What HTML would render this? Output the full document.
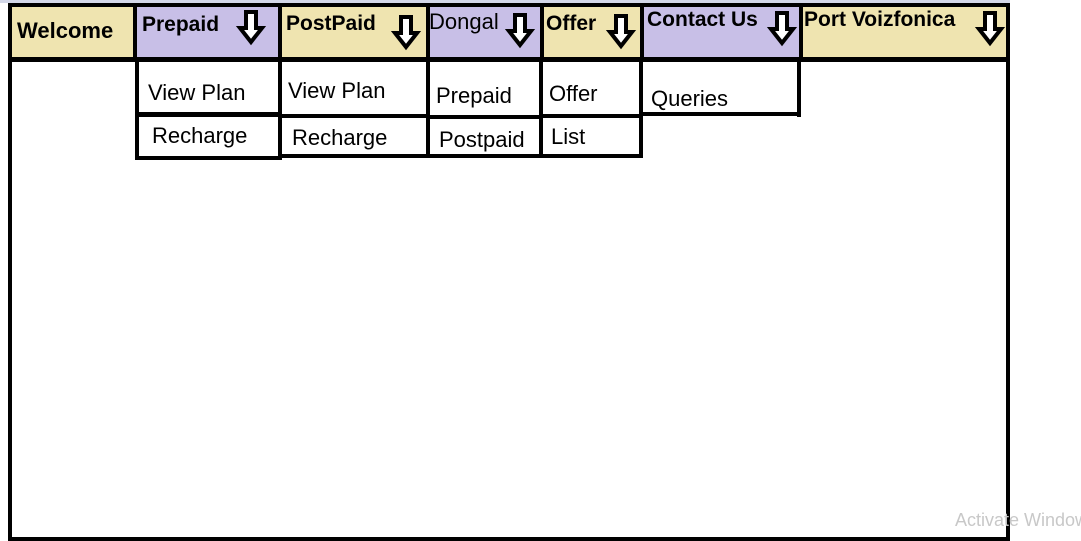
<!DOCTYPE html>
<html><head><style>
body{margin:0;width:1081px;height:541px;background:#fff;position:relative;overflow:hidden;font-family:"Liberation Sans",sans-serif}
.a{position:absolute;white-space:nowrap}
.b{position:absolute;background:#000}
.h{position:absolute;font-weight:bold;font-size:21px;color:#000;white-space:nowrap}
.s{position:absolute;font-size:22px;color:#000;white-space:nowrap}
.bei{background:#efe4b0}.pur{background:#c8bfe7}
</style></head><body>
<div class="a" style="left:0;top:0;width:1010px;height:3px;background:#d3d7e8"></div>
<div class="a bei" style="left:12px;top:7px;width:122px;height:50px"></div>
<div class="a pur" style="left:137px;top:7px;width:141px;height:50px"></div>
<div class="a bei" style="left:282px;top:7px;width:145px;height:50px"></div>
<div class="a pur" style="left:430px;top:7px;width:110px;height:50px"></div>
<div class="a bei" style="left:544px;top:7px;width:97px;height:50px"></div>
<div class="a pur" style="left:644px;top:7px;width:155px;height:50px"></div>
<div class="a bei" style="left:803px;top:7px;width:203px;height:50px"></div>
<div class="b" style="left:8px;top:3px;width:1002px;height:4px"></div>
<div class="b" style="left:8px;top:3px;width:4px;height:538px"></div>
<div class="b" style="left:1006px;top:3px;width:4px;height:538px"></div>
<div class="b" style="left:8px;top:537px;width:1000px;height:4px"></div>
<div class="b" style="left:8px;top:57px;width:1002px;height:5px"></div>
<div class="b" style="left:133px;top:3px;width:4px;height:58px"></div>
<div class="b" style="left:278px;top:3px;width:4px;height:58px"></div>
<div class="b" style="left:426px;top:3px;width:4px;height:58px"></div>
<div class="b" style="left:540px;top:3px;width:4px;height:58px"></div>
<div class="b" style="left:640px;top:3px;width:4px;height:58px"></div>
<div class="b" style="left:799px;top:3px;width:4px;height:58px"></div>
<div class="b" style="left:135px;top:57px;width:4px;height:103px"></div>
<div class="b" style="left:278px;top:57px;width:4px;height:103px"></div>
<div class="b" style="left:135px;top:112px;width:147px;height:5px"></div>
<div class="b" style="left:135px;top:156px;width:147px;height:4px"></div>
<div class="b" style="left:426px;top:57px;width:4px;height:101px"></div>
<div class="b" style="left:280px;top:114px;width:148px;height:4px"></div>
<div class="b" style="left:280px;top:154px;width:148px;height:4px"></div>
<div class="b" style="left:539px;top:57px;width:4px;height:101px"></div>
<div class="b" style="left:428px;top:115px;width:114px;height:4px"></div>
<div class="b" style="left:428px;top:154px;width:114px;height:4px"></div>
<div class="b" style="left:639px;top:57px;width:4px;height:101px"></div>
<div class="b" style="left:541px;top:114px;width:101px;height:4px"></div>
<div class="b" style="left:541px;top:154px;width:101px;height:4px"></div>
<div class="b" style="left:797px;top:57px;width:4px;height:60px"></div>
<div class="b" style="left:641px;top:112px;width:160px;height:4px"></div>
<div class="h" style="left:17px;top:18px;font-size:22px">Welcome</div>
<div class="h" style="left:142px;top:13px">Prepaid</div>
<div class="h" style="left:286px;top:12px">PostPaid</div>
<div class="a" style="left:429px;top:9px;font-size:22px">Dongal</div>
<div class="h" style="left:546px;top:12px">Offer</div>
<div class="h" style="left:647px;top:8px">Contact Us</div>
<div class="h" style="left:804px;top:8px">Port Voizfonica</div>
<svg class="a" style="left:0;top:0" width="1081" height="80">
<defs><path id="ar" d="M-5,0 H5 V16 H11 L0,30 L-11,16 H-5 Z" fill="#fff" stroke="#000" stroke-width="4" stroke-linejoin="miter"/></defs>
<use href="#ar" x="251" y="12"/>
<use href="#ar" x="406" y="17"/>
<use href="#ar" x="520" y="15"/>
<use href="#ar" x="621" y="16"/>
<use href="#ar" x="782" y="13"/>
<use href="#ar" x="990" y="13"/>
</svg>
<div class="s" style="left:148px;top:80px">View Plan</div>
<div class="s" style="left:152px;top:123px">Recharge</div>
<div class="s" style="left:288px;top:78px">View Plan</div>
<div class="s" style="left:292px;top:125px">Recharge</div>
<div class="s" style="left:436px;top:83px">Prepaid</div>
<div class="s" style="left:439px;top:127px">Postpaid</div>
<div class="s" style="left:549px;top:81px">Offer</div>
<div class="s" style="left:551px;top:124px">List</div>
<div class="s" style="left:651px;top:86px">Queries</div>
<div class="a" style="left:955px;top:510px;font-size:18px;color:#c8c8c8">Activate Windows</div>
</body></html>
